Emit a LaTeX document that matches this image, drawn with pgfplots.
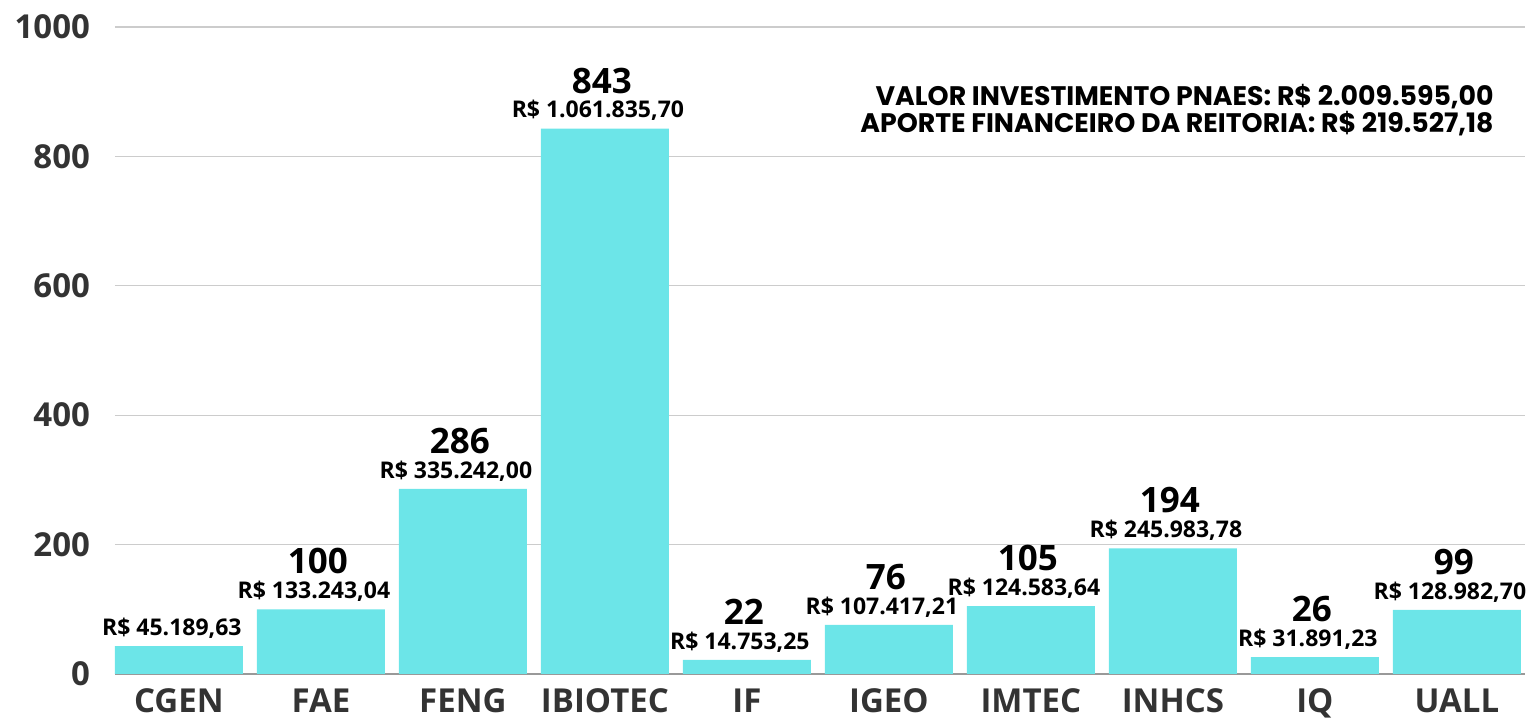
\documentclass[border=0pt]{standalone}
\usepackage{pgfplots}
\pgfplotsset{compat=1.18}
\usepackage{pgfplotstable}
\usepackage{fontspec}
\setmainfont{Open Sans}
\newfontfamily\popfont{Poppins}
\definecolor{barc}{HTML}{6CE5E8}
\definecolor{tickc}{HTML}{333333}
\pgfplotstableread{
x y count money
0 43 {} {R\$ 45.189,63}
1 100 {100} {R\$ 133.243,04}
2 286 {286} {R\$ 335.242,00}
3 843 {843} {R\$ 1.061.835,70}
4 22 {22} {R\$ 14.753,25}
5 76 {76} {R\$ 107.417,21}
6 105 {105} {R\$ 124.583,64}
7 194 {194} {R\$ 245.983,78}
8 26 {26} {R\$ 31.891,23}
9 99 {99} {R\$ 128.982,70}
}\data
\begin{document}
\begin{tikzpicture}
\begin{axis}[
  at={(0,0)}, anchor=south west,
  scale only axis, width=705pt, height=323.5pt,
  xmin=-0.45, xmax=9.48, ymin=0, ymax=1000,
  axis line style={draw=none},
  ytick={0,200,400,600,800,1000},
  xtick={0,...,9},
  xticklabels={CGEN,FAE,FENG,IBIOTEC,IF,IGEO,IMTEC,INHCS,IQ,UALL},
  major tick length=0pt,
  ymajorgrids, grid style={draw=black!20, line width=0.6pt},
  extra y ticks={0}, extra y tick labels={},
  extra y tick style={grid style={draw=black!40, line width=1.2pt}},
  yticklabel style={font=\fontsize{16.5}{18}\selectfont\bfseries, text=tickc, xshift=-9pt, /pgf/number format/1000 sep={}},
  xticklabel style={font=\fontsize{16.5}{18}\selectfont\bfseries, text=tickc, yshift=-4pt},
  /pgf/number format/assume math mode=true,
  clip=false,
]
\addplot[ybar, bar width=64pt, bar shift=0pt, fill=barc, draw=none,
  point meta=explicit symbolic, nodes near coords,
  every node near coord/.style={anchor=center, yshift=9pt, xshift=-3.5pt, font=\fontsize{11.5}{14}\selectfont\bfseries, text=black}]
  table[x=x, y=y, meta=money]{\data};
\addplot[draw=none, mark=none,
  point meta=explicit symbolic, nodes near coords,
  every node near coord/.style={anchor=center, yshift=24pt, xshift=-1.5pt, font=\fontsize{17.5}{19}\selectfont\bfseries, text=black}]
  table[x=x, y=y, meta=count]{\data};
\node[anchor=east, font=\popfont\fontsize{13.4}{15}\selectfont\bfseries, inner sep=0pt] at (rel axis cs:0.978,0.892) {VALOR INVESTIMENTO PNAES: R\$ 2.009.595,00};
\node[anchor=east, font=\popfont\fontsize{13.4}{15}\selectfont\bfseries, inner sep=0pt] at (rel axis cs:0.978,0.850) {APORTE FINANCEIRO DA REITORIA: R\$ 219.527,18};
\end{axis}
\pgfresetboundingbox
\path[use as bounding box] (-57.5pt,-24pt) rectangle (707.5pt,337pt);
\end{tikzpicture}
\end{document}
